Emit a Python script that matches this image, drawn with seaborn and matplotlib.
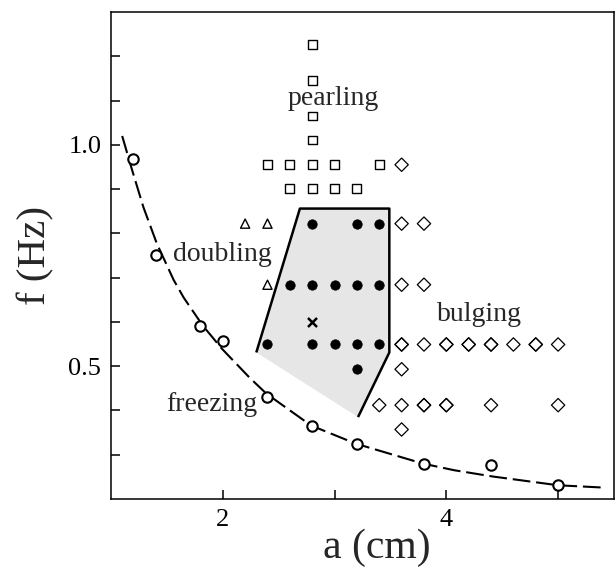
import matplotlib
matplotlib.use("Agg")
import matplotlib.pyplot as plt
import seaborn as sns
import pandas as pd

# ---------------- data ----------------
# freezing threshold measurements (open circles)
freeze_a = [1.2, 1.4, 1.8, 2.0, 2.4, 2.8, 3.2, 3.8, 4.4, 5.0]
freeze_f = [0.969, 0.751, 0.590, 0.556, 0.430, 0.365, 0.325, 0.280, 0.276, 0.231]

# dashed guide curve
curve_a = [1.10, 1.19, 1.29, 1.41, 1.56, 1.65, 1.82, 1.99, 2.24, 2.39, 2.79, 3.19, 3.79, 4.07, 4.41, 5.00, 5.39]
curve_f = [1.020, 0.942, 0.859, 0.777, 0.695, 0.655, 0.592, 0.540, 0.474, 0.438, 0.366, 0.325, 0.280, 0.265, 0.251, 0.231, 0.226]

# pearling (open squares)
pearl_a = [2.8, 2.8, 2.8, 2.8, 2.4, 2.6, 2.8, 3.0, 3.4, 2.6, 2.8, 3.0, 3.2]
pearl_f = [1.226, 1.146, 1.065, 1.011, 0.955, 0.955, 0.955, 0.955, 0.955, 0.901, 0.901, 0.901, 0.901]

# doubling (open triangles)
double_a = [2.2, 2.4, 2.4]
double_f = [0.822, 0.822, 0.684]

# shaded regime (filled circles)
fill_a = [2.8, 3.2, 3.4, 2.6, 2.8, 3.0, 3.2, 3.4, 2.4, 2.8, 3.0, 3.2, 3.4, 3.2]
fill_f = [0.822, 0.822, 0.822, 0.684, 0.684, 0.684, 0.684, 0.684, 0.549, 0.549, 0.549, 0.549, 0.549, 0.493]

# single cross
cross_a = [2.8]
cross_f = [0.600]

# bulging (open diamonds, some repeated runs)
bulge_a = [3.6, 3.6, 3.8, 3.6, 3.8,
           3.6, 3.8, 4.0, 4.2, 4.4, 4.6, 4.8, 5.0,
           3.6, 3.4, 3.6, 3.8, 4.0, 4.4, 5.0, 3.6,
           3.6, 4.0, 4.2, 4.4, 4.8, 3.8, 4.0]
bulge_f = [0.955, 0.822, 0.822, 0.684, 0.684,
           0.549, 0.549, 0.549, 0.549, 0.549, 0.549, 0.549, 0.549,
           0.493, 0.412, 0.412, 0.412, 0.412, 0.412, 0.412, 0.357,
           0.549, 0.549, 0.549, 0.549, 0.549, 0.412, 0.412]

# shaded region outline vertices
region_a = [2.30, 2.69, 3.49, 3.49, 3.21]
region_f = [0.531, 0.856, 0.856, 0.531, 0.385]

# region labels
label_text = ["pearling", "doubling", "bulging", "freezing"]
label_a = [2.99, 2.00, 4.30, 1.90]
label_f = [1.090, 0.738, 0.602, 0.399]

x_ticks = [2, 3, 4, 5]
x_ticklabels = ["2", "", "4", ""]
y_ticks = [0.3, 0.4, 0.5, 0.6, 0.7, 0.8, 0.9, 1.0, 1.1, 1.2]
y_ticklabels = ["", "", "0.5", "", "", "", "", "1.0", "", ""]

# ---------------- style ----------------
sns.set_style("ticks")
plt.rcParams["font.family"] = ["Liberation Serif", "DejaVu Serif"]

fig = plt.figure(figsize=(6.15, 5.79), dpi=100)
ax = fig.add_axes([111 / 615, 80 / 579, 503 / 615, 487 / 579])

# shaded region
ax.fill(region_a, region_f, color="#e6e6e6", lw=0, zorder=1)
ax.plot(region_a, region_f, color="black", lw=1.8, solid_joinstyle="round",
        solid_capstyle="butt", zorder=2)

# dashed curve
sns.lineplot(x=curve_a, y=curve_f, sort=False, estimator=None, ax=ax,
             color="black", lw=1.5, linestyle=(0, (8.5, 2.8)), zorder=3)

common = dict(ax=ax, legend=False, zorder=4)
sns.scatterplot(x=freeze_a, y=freeze_f, marker="o", s=7.5**2, facecolor="white",
                edgecolor="black", linewidth=1.5, **common)
sns.scatterplot(x=pearl_a, y=pearl_f, marker="s", s=6.4**2, facecolor="none",
                edgecolor="black", linewidth=1.0, **common)
sns.scatterplot(x=double_a, y=double_f, marker="^", s=6.6**2, facecolor="none",
                edgecolor="black", linewidth=1.0, **common)
sns.scatterplot(x=fill_a, y=fill_f, marker="o", s=6.8**2, color="black",
                edgecolor="black", linewidth=0.5, **common)
sns.scatterplot(x=cross_a, y=cross_f, marker="x", s=6.5**2, color="black",
                linewidth=1.8, **common)
sns.scatterplot(x=bulge_a, y=bulge_f, marker="D", s=6.8**2, facecolor="none",
                edgecolor="black", linewidth=0.9, **common)

for t, a, f in zip(label_text, label_a, label_f):
    ax.text(a, f, t, fontsize=20, ha="center", va="baseline", zorder=5)

ax.set_xlim(1.0, 5.5)
ax.set_ylim(0.2, 1.3)
ax.set_xticks(x_ticks)
ax.set_xticklabels(x_ticklabels)
ax.set_yticks(y_ticks)
ax.set_yticklabels(y_ticklabels)
ax.tick_params(direction="in", length=6.5, width=1.1, labelsize=19, pad=7,
               color="black", labelcolor="black")
for sp in ax.spines.values():
    sp.set_linewidth(1.1)
    sp.set_color("black")

ax.set_xlabel("a (cm)", fontsize=30)
ax.set_ylabel("f (Hz)", fontsize=29.5)
ax.xaxis.set_label_coords(0.529, -0.06)
ax.yaxis.set_label_coords(-0.113, 0.5)

fig.savefig("out.png", dpi=100)
